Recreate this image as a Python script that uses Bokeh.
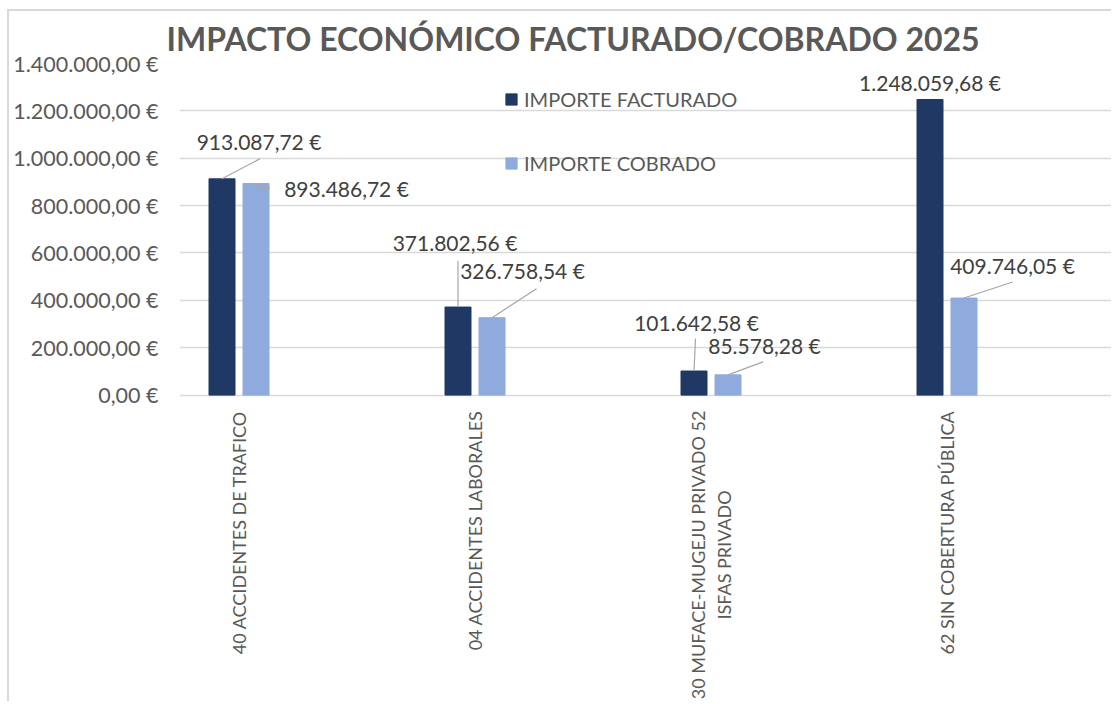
import numpy as np
from bokeh.plotting import figure
from bokeh.models import Range1d, FixedTicker, ColumnDataSource
from bokeh.core.properties import value
from bokeh.embed import file_html
from bokeh.resources import INLINE

# ---------------- data ----------------
title_text = "IMPACTO ECONÓMICO FACTURADO/COBRADO 2025"
categories = [
    "40 ACCIDENTES DE TRAFICO",
    "04 ACCIDENTES LABORALES",
    "30 MUFACE-MUGEJU PRIVADO 52\nISFAS PRIVADO",
    "62 SIN COBERTURA PÚBLICA",
]
series_names = ["IMPORTE FACTURADO", "IMPORTE COBRADO"]
facturado = [913087.72, 371802.56, 101642.58, 1248059.68]
cobrado = [893486.72, 326758.54, 85578.28, 409746.05]
y_ticks = [0, 200000, 400000, 600000, 800000, 1000000, 1200000, 1400000]
y_tick_labels = ["0,00 €", "200.000,00 €", "400.000,00 €", "600.000,00 €",
                 "800.000,00 €", "1.000.000,00 €", "1.200.000,00 €", "1.400.000,00 €"]

# ---------------- layout / style ----------------
M_TOP, M_LEFT, BORDER = 9, 7, 2
FIG_W, FIG_H = 1104, 692
B_LEFT, B_TOP = 170, 52
FRAME_W = FIG_W - B_LEFT
FRAME_H = FIG_H - B_TOP
CAT_PX = 236.0            # pixels per category
FIRST_CENTER_PX = 59.5    # first category center from frame left
PX_PER_UNIT_Y = 331.6 / 1400000.0
BAR_W = 26.0 / CAT_PX
BAR_GAP = 8.0 / CAT_PX
OFF = (BAR_W + BAR_GAP) / 2

DARK = "#203864"
LIGHT = "#8FAADC"
GRID = "#D9D9D9"
TXT = "#595959"
LBL = "#404040"
FONT = "Lato"

# label placement (screen px relative to bar top centre; +y is down)
lab_off_f = [(37, -37), (-3, -65), (2.5, -49), (0, -17)]
lab_off_c = [(90.5, 5), (30.5, -47), (36.5, -29), (48.5, -33)]
lead_f = [[(0, 0), (38, -20)], [(0, 0), (0, -46)], [(0, 0), (1.5, -32.5)], None]
lead_c = [[(0, 0), (5, 5), (14, 5)], [(0, 0), (44.5, -29)], [(0, 0), (35, -13)], [(0, 0), (48.7, -16)]]

x_start = -FIRST_CENTER_PX / CAT_PX
x_end = x_start + FRAME_W / CAT_PX
y_end = y_ticks[-1]
y_start = y_end - FRAME_H / PX_PER_UNIT_Y
ux = 1.0 / CAT_PX          # x data units per px
uy = 1.0 / PX_PER_UNIT_Y   # y data units per px


def eur(v):
    s = f"{v:,.2f}".replace(",", "X").replace(".", ",").replace("X", ".")
    return s + " €"


idx = np.arange(len(categories))

p = figure(width=FIG_W, height=FIG_H, output_backend="svg", toolbar_location=None,
           x_range=Range1d(x_start, x_end), y_range=Range1d(y_start, y_end),
           x_axis_location=None, min_border_left=B_LEFT, min_border_top=B_TOP,
           min_border_right=0, min_border_bottom=0)
p.margin = (M_TOP, 0, 0, M_LEFT)
p.outline_line_color = None
p.background_fill_color = "white"
p.border_fill_color = "white"
p.styles = {"border-left": f"{BORDER}px solid #D9D9D9", "border-top": f"{BORDER}px solid #D9D9D9"}

p.title.text = title_text
p.title.text_font = FONT
p.title.text_font_style = "bold"
p.title.text_font_size = "32px"
p.title.text_color = TXT
p.title.align = "left"
p.title.offset = -13
p.title.standoff = 11

p.xgrid.visible = False
ticker = FixedTicker(ticks=y_ticks)
p.yaxis.ticker = ticker
p.ygrid.ticker = ticker
p.ygrid.grid_line_color = GRID
p.ygrid.grid_line_width = 1.5
p.yaxis.major_label_overrides = dict(zip(y_ticks, y_tick_labels))
p.yaxis.axis_line_color = None
p.yaxis.major_tick_line_color = None
p.yaxis.minor_tick_line_color = None
p.yaxis.major_label_standoff = 15
p.yaxis.major_label_text_font = FONT
p.yaxis.major_label_text_font_size = "21.5px"
p.yaxis.major_label_text_color = TXT

# bars
p.vbar(x=idx - OFF, top=facturado, width=BAR_W, fill_color=DARK, line_color=DARK,
       legend_label=series_names[0])
p.vbar(x=idx + OFF, top=cobrado, width=BAR_W, fill_color=LIGHT, line_color=LIGHT,
       legend_label=series_names[1])

# leader lines
xs, ys = [], []
for vals, leads, sign in ((facturado, lead_f, -1), (cobrado, lead_c, 1)):
    for i, (v, lead) in enumerate(zip(vals, leads)):
        if lead is None:
            continue
        bx = i + sign * OFF
        xs.append([bx + dx * ux for dx, dy in lead])
        ys.append([v - dy * uy for dx, dy in lead])
p.multi_line(xs=xs, ys=ys, line_color="#A6A6A6", line_width=1.2)

# data labels
for vals, offs, sign in ((facturado, lab_off_f, -1), (cobrado, lab_off_c, 1)):
    src = ColumnDataSource(dict(
        x=idx + sign * OFF, y=vals, t=[eur(v) for v in vals],
        dx=[o[0] for o in offs], dy=[o[1] for o in offs]))
    p.text(x="x", y="y", text="t", x_offset="dx", y_offset="dy", source=src,
           text_align="center", text_baseline="middle",
           text_font=value(FONT), text_font_size="21px", text_color=LBL)

# category labels (rotated, below the zero line)
csrc = ColumnDataSource(dict(x=idx, y=[0] * len(categories), t=categories))
p.text(x="x", y="y", text="t", source=csrc, y_offset=15.5, angle=np.pi / 2,
       anchor="center_right", text_align="center", text_baseline="middle",
       text_line_height=1.15,
       text_font=value(FONT), text_font_size="18px", text_color=TXT)

lg = p.legend[0]
lg.location = (325, 528)
lg.glyph_width = 14
lg.glyph_height = 14
lg.label_standoff = 6
lg.spacing = 40
lg.padding = 0
lg.margin = 0
lg.border_line_color = None
lg.background_fill_alpha = 0
lg.label_text_font = FONT
lg.label_text_font_size = "20px"
lg.label_text_color = TXT

open("out.html", "w").write(file_html(p, INLINE))
